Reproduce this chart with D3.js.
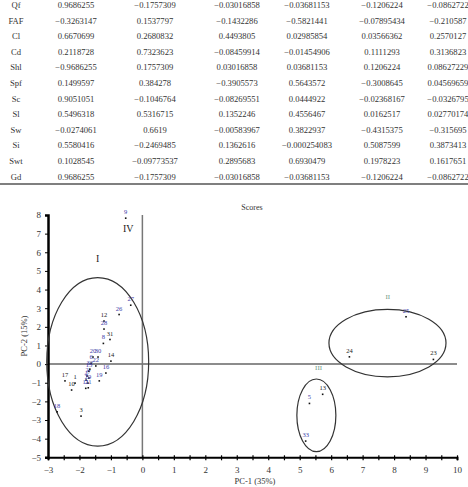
<!doctype html>
<html>
  <head>
    <meta charset="utf-8">
    <script src="https://d3js.org/d3.v7.min.js"></script>
    <style>
      body { margin: 0; background: #fff; overflow: hidden; }
    </style>
  </head>
  <body>
    <script>
    // loadings table
    var rowNames = ["Qf", "FAF", "Cl", "Cd", "Shl", "Spf", "Sc", "Sl", "Sw", "Si", "Swt", "Gd"];
    var col1 = ["0.9686255", "\u22120.3263147", "0.6670699", "0.2118728", "\u22120.9686255", "0.1499597", "0.9051051", "0.5496318", "\u22120.0274061", "0.5580416", "0.1028545", "0.9686255"];
    var col2 = ["\u22120.1757309", "0.1537797", "0.2680832", "0.7323623", "0.1757309", "0.384278", "\u22120.1046764", "0.5316715", "0.6619", "\u22120.2469485", "\u22120.09773537", "\u22120.1757309"];
    var col3 = ["\u22120.03016858", "\u22120.1432286", "0.4493805", "\u22120.08459914", "0.03016858", "\u22120.3905573", "\u22120.08269551", "0.1352246", "\u22120.00583967", "0.1362616", "0.2895683", "\u22120.03016858"];
    var col4 = ["\u22120.03681153", "\u22120.5821441", "0.02985854", "\u22120.01454906", "0.03681153", "0.5643572", "0.0444922", "0.4556467", "0.3822937", "\u22120.000254083", "0.6930479", "\u22120.03681153"];
    var col5 = ["\u22120.1206224", "\u22120.07895434", "0.03566362", "0.1111293", "0.1206224", "\u22120.3008645", "\u22120.02368167", "0.0162517", "\u22120.4315375", "0.5087599", "0.1978223", "\u22120.1206224"];
    var col6 = ["\u22120.0862722", "\u22120.210587", "0.2570127", "0.3136823", "0.08627229", "0.04569659", "\u22120.0326795", "0.02770174", "\u22120.315695", "0.3873413", "0.1617651", "\u22120.0862722"];

    // scores
    var ids  = ["1", "2", "3", "4", "5", "6", "7", "8", "9", "10", "11", "12", "13", "14", "15", "16", "17",
                "18", "19", "20", "21", "22", "23", "24", "25", "26", "27", "28", "29", "30", "31", "32", "33"];
    var pc1  = [-2.14, -1.76, -1.95, -1.79, 5.31, -1.63, -1.70, -1.24, -0.53, -2.25, -1.80, -1.22, 5.73, -1.00, -1.70, -1.16, -2.46,
                -2.71, -1.37, -1.57, -1.72, -1.48, 9.25, 6.58, 8.38, -0.74, -0.37, -1.22, -1.73, -1.41, -1.03, -1.67, 5.19];
    var pc2  = [-1.02, -0.64, -2.79, -0.86, -2.11, 0.05, -0.75, 1.11, 7.83, -1.39, -1.30, 2.31, -1.62, 0.16, -0.38, -0.48, -0.90,
                -2.56, -0.90, 0.38, -1.27, -0.10, 0.25, 0.39, 2.54, 2.66, 3.16, 1.88, -1.02, 0.38, 1.32, -0.27, -4.13];
    var blackIds = ["1", "3", "10", "12", "13", "14", "17", "23", "24", "31"];

    // group ellipses
    var groups = ["I", "II", "III"];
    var groupCx = [-1.42, 7.79, 5.53];
    var groupCy = [0.12, 1.13, -2.75];
    var groupRx = [1.62, 1.86, 0.62];
    var groupRy = [4.52, 1.81, 1.95];

    var yTicks = [-5, -4, -3, -2, -1, 0, 1, 2, 3, 4, 5, 6, 7, 8];

    var width = 468, height = 487;
    var svg = d3.select("body").append("svg")
      .attr("width", width)
      .attr("height", height)
      .style("font-family", "'Liberation Serif', serif");

    // table
    var tableX = [16, 76, 155, 237, 307, 382, 448];
    var cols = [rowNames, col1, col2, col3, col4, col5, col6];
    var rowY = d3.scaleLinear().domain([0, 11]).range([5, 176.5]);
    cols.forEach(function(col, ci) {
      svg.append("g").selectAll("text")
        .data(col)
        .enter().append("text")
          .attr("x", tableX[ci])
          .attr("y", function(d, i) { return rowY(i); })
          .attr("dy", "0.35em")
          .attr("text-anchor", "middle")
          .attr("fill", "#333")
          .style("font-size", "8.6px")
          .text(function(d) { return d; });
    });
    svg.append("line")
      .attr("x1", 0).attr("x2", width)
      .attr("y1", 184).attr("y2", 184)
      .attr("stroke", "#555")
      .attr("stroke-width", 1.5);

    // plot
    var x = d3.scaleLinear().domain([-3, 10]).range([48, 457]);
    var y = d3.scaleLinear().domain([-5, 8]).range([457.3, 215]);

    svg.append("text")
      .attr("x", 252).attr("y", 210)
      .attr("text-anchor", "middle")
      .attr("fill", "#333")
      .style("font-size", "8px")
      .text("Scores");

    // zero lines
    svg.append("line")
      .attr("x1", x(-3)).attr("x2", x(10))
      .attr("y1", y(0)).attr("y2", y(0))
      .attr("stroke", "#666").attr("stroke-width", 1.5);
    svg.append("line")
      .attr("x1", x(0)).attr("x2", x(0))
      .attr("y1", y(8)).attr("y2", y(-5))
      .attr("stroke", "#777").attr("stroke-width", 1.5);

    // axes
    var xAxis = d3.axisBottom(x)
      .tickValues(d3.range(-3, 10.01, 0.5))
      .tickSize(3)
      .tickFormat(function(d) { return Number.isInteger(d) ? d3.format("d")(d) : ""; });
    var gx = svg.append("g")
      .attr("transform", "translate(0," + y(-5) + ")")
      .call(xAxis);
    gx.select(".domain").attr("stroke", "#000").attr("stroke-width", 2);
    gx.selectAll(".tick line").attr("stroke", "#000").attr("y1", -2).attr("stroke-width", 1.2);
    gx.selectAll(".tick text")
      .attr("y", 9)
      .style("font-family", "'Liberation Serif', serif")
      .style("font-size", "9px")
      .attr("fill", "#333");

    var yAxis = d3.axisLeft(y)
      .tickValues(yTicks)
      .tickSize(3)
      .tickFormat(d3.format("d"));
    var gy = svg.append("g")
      .attr("transform", "translate(" + x(-3) + ",0)")
      .call(yAxis);
    gy.select(".domain").attr("stroke", "#000").attr("stroke-width", 2.5);
    gy.selectAll(".tick line").attr("stroke", "#000");
    gy.selectAll(".tick text")
      .attr("x", -7)
      .style("font-family", "'Liberation Serif', serif")
      .style("font-size", "9px")
      .attr("fill", "#333");

    svg.append("text")
      .attr("x", 255).attr("y", 484)
      .attr("text-anchor", "middle")
      .attr("fill", "#333")
      .style("font-size", "8.5px")
      .text("PC-1 (35%)");
    svg.append("text")
      .attr("transform", "translate(27,336) rotate(-90)")
      .attr("text-anchor", "middle")
      .attr("fill", "#333")
      .style("font-size", "8.5px")
      .text("PC-2 (15%)");

    // ellipses
    groups.forEach(function(gname, i) {
      svg.append("ellipse")
        .attr("cx", x(groupCx[i]))
        .attr("cy", y(groupCy[i]))
        .attr("rx", x(groupCx[i] + groupRx[i]) - x(groupCx[i]))
        .attr("ry", y(groupCy[i]) - y(groupCy[i] + groupRy[i]))
        .attr("fill", "none")
        .attr("stroke", "#333")
        .attr("stroke-width", 1.2);
    });

    // group labels
    svg.append("text").attr("x", x(-1.42)).attr("y", y(5.5)).attr("text-anchor", "middle")
      .attr("fill", "#222").style("font-size", "10px").text("I");
    svg.append("text").attr("x", x(-0.45)).attr("y", y(7.1)).attr("text-anchor", "middle")
      .attr("fill", "#222").style("font-size", "10px").text("IV");
    svg.append("text").attr("x", x(7.8)).attr("y", y(3.5)).attr("text-anchor", "middle")
      .attr("fill", "#6f9a86").style("font-size", "7px").text("II");
    svg.append("text").attr("x", x(5.6)).attr("y", y(-0.3)).attr("text-anchor", "middle")
      .attr("fill", "#6f9a86").style("font-size", "7px").text("III");

    // points
    var pts = svg.append("g");
    pts.selectAll("rect")
      .data(ids)
      .enter().append("rect")
        .attr("x", function(d, i) { return x(pc1[i]) - 0.8; })
        .attr("y", function(d, i) { return y(pc2[i]) - 0.8; })
        .attr("width", 1.6)
        .attr("height", 1.6)
        .attr("fill", "#111");
    pts.selectAll("text")
      .data(ids)
      .enter().append("text")
        .attr("x", function(d, i) { return x(pc1[i]); })
        .attr("y", function(d, i) { return y(pc2[i]) - 4; })
        .attr("text-anchor", "middle")
        .attr("fill", function(d) { return blackIds.indexOf(d) >= 0 ? "#222" : "#3a3aa8"; })
        .style("font-size", "6.5px")
        .text(function(d) { return d; });
    </script>
  </body>
</html>
